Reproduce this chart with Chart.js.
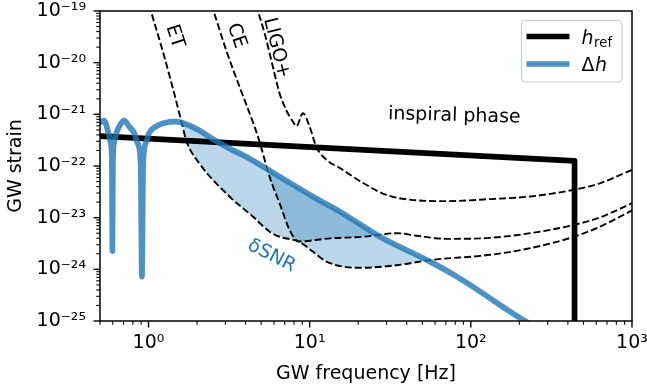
<!DOCTYPE html>
<html><head><meta charset="utf-8">
<script src="https://cdn.jsdelivr.net/npm/chart.js@4.4.1/dist/chart.umd.min.js"></script>
<style>html,body{margin:0;padding:0;background:#fff;}canvas{display:block;}</style>
</head><body>
<canvas id="c" width="647" height="389"></canvas>
<script>
// ---------- data ----------
const dhFreq = [0.5, 0.53, 0.564, 0.583, 0.593, 0.597, 0.601, 0.611, 0.632, 0.657, 0.706, 0.759, 0.815, 0.854, 0.894, 0.910, 0.926, 0.963, 1.01, 1.11, 1.25, 1.48, 1.79, 2.07, 2.50, 3.18, 4.04, 6.51, 10.5, 15.4, 27.3, 55.8, 81.9, 211, 270];
const dhStrain = [6.95e-22, 7.53e-22, 4.36e-22, 2.79e-22, 1.05e-22, 2.26e-24, 1.05e-22, 2.79e-22, 4.36e-22, 5.77e-22, 7.53e-22, 5.77e-22, 4.36e-22, 2.79e-22, 1.05e-22, 7.21e-25, 1.05e-22, 2.79e-22, 4.36e-22, 5.77e-22, 6.79e-22, 7.21e-22, 6.08e-22, 4.86e-22, 3.33e-22, 2.18e-22, 1.51e-22, 6.21e-23, 2.55e-23, 1.31e-23, 4.29e-24, 1.41e-24, 7.21e-25, 1.05e-25, 6.70e-26];

const refFreq = [0.5, 440, 440];
const refStrain = [3.8e-22, 1.26e-22, 1e-26];

const etFreq = [0.972, 1.035, 1.22, 1.39, 1.63, 1.71, 2.07, 3.18, 4.44, 5.64, 6.50, 8.54, 10.5, 12.7, 20.5, 34.6, 55.8, 132, 234, 436, 638, 1000];
const etStrain = [2.04e-19, 1.0e-19, 1.76e-20, 3.98e-21, 5.75e-22, 3.16e-22, 1.12e-22, 2.57e-23, 1.05e-23, 5.37e-24, 4.27e-24, 3.46e-24, 2.19e-24, 1.41e-24, 1.07e-24, 1.20e-24, 1.51e-24, 1.91e-24, 2.57e-24, 4.27e-24, 6.76e-24, 1.38e-23];

const ceFreq = [2.33, 2.53, 3.03, 3.67, 4.55, 4.89, 5.64, 6.50, 7.51, 8.54, 13.4, 21.5, 34.8, 46.1, 71, 132, 234, 436, 638, 1000];
const ceStrain = [2.04e-19, 1.0e-19, 1.76e-20, 3.43e-21, 5.75e-22, 2.92e-22, 6.17e-23, 1.91e-23, 5.75e-24, 3.46e-24, 3.98e-24, 4.27e-24, 5.01e-24, 4.47e-24, 3.89e-24, 4.07e-24, 5.01e-24, 7.24e-24, 1.02e-23, 1.91e-23];

const ligoFreq = [4.45, 4.77, 5.25, 5.91, 6.50, 7.16, 7.87, 8.27, 9.08, 10.0, 11.0, 12.7, 15.4, 21.5, 30.0, 44.0, 71, 132, 234, 436, 638, 1000];
const ligoStrain = [2.04e-19, 1.0e-19, 3.72e-20, 8.32e-21, 2.57e-21, 1.20e-21, 7.24e-22, 5.89e-22, 1.05e-21, 5.75e-22, 2.34e-22, 1.32e-22, 9.12e-23, 4.68e-23, 2.75e-23, 2.19e-23, 2.09e-23, 2.29e-23, 2.57e-23, 3.47e-23, 4.68e-23, 8.4e-23];

const xTicks = [1, 10, 100, 1000];
const xTickLabels = ['10⁰', '10¹', '10²', '10³'];
const yTicks = [1e-25, 1e-24, 1e-23, 1e-22, 1e-21, 1e-20, 1e-19];
const yTickLabels = ['10⁻²⁵', '10⁻²⁴', '10⁻²³', '10⁻²²', '10⁻²¹', '10⁻²⁰', '10⁻¹⁹'];

const seriesNames = ['h_ref', 'Δh'];
const curveLabels = ['ET', 'CE', 'LIGO+', 'inspiral phase', 'δSNR'];

// ---------- helpers ----------
const pts = (xs, ys) => xs.map((x, i) => ({x, y: ys[i]}));
const FONT = "'DejaVu Sans', sans-serif";
Chart.defaults.font.family = FONT;
Chart.defaults.color = '#000';

const C0 = 'rgb(31,119,180)';
const C0line = 'rgba(31,119,180,0.8)';
const C0fill = 'rgba(31,119,180,0.3)';

function minorValues(lo, hi) {
  const out = [];
  for (let e = Math.floor(Math.log10(lo)) - 1; e <= Math.ceil(Math.log10(hi)); e++) {
    for (let m = 2; m <= 9; m++) {
      const v = m * Math.pow(10, e);
      if (v >= lo * 0.999 && v <= hi * 1.001) out.push(v);
    }
  }
  return out;
}

const axesPlugin = {
  id: 'mplAxes',
  afterDatasetsDraw(chart) {
    const {ctx, chartArea: a, scales: {x, y}} = chart;
    ctx.save();
    ctx.strokeStyle = '#000';
    const tk = (x1, y1, x2, y2, w) => { ctx.lineWidth = w; ctx.beginPath(); ctx.moveTo(x1, y1); ctx.lineTo(x2, y2); ctx.stroke(); };
    xTicks.forEach(v => { const p = x.getPixelForValue(v); tk(p, a.bottom, p, a.bottom + 6.5, 1.4); });
    minorValues(x.min, x.max).forEach(v => { const p = x.getPixelForValue(v); tk(p, a.bottom, p, a.bottom + 3.7, 1.1); });
    yTicks.forEach(v => { const p = y.getPixelForValue(v); tk(a.left, p, a.left - 6.5, p, 1.4); });
    minorValues(y.min, y.max).forEach(v => { const p = y.getPixelForValue(v); tk(a.left, p, a.left - 3.7, p, 1.1); });
    ctx.lineWidth = 1.5;
    ctx.strokeRect(a.left, a.top, a.right - a.left, a.bottom - a.top);
    ctx.restore();
  }
};

const notes = [
  {text: curveLabels[0], x: 1.45, y: 3.2e-20, rot: 72, color: '#000'},
  {text: curveLabels[1], x: 3.51, y: 3.3e-20, rot: 71, color: '#000'},
  {text: curveLabels[2], x: 6.21, y: 1.92e-20, rot: 76, color: '#000'},
  {text: curveLabels[3], x: 79, y: 9.3e-22, rot: 1.5, color: '#000'},
  {text: curveLabels[4], x: 5.8, y: 1.81e-24, rot: 27, color: C0}
];

const textPlugin = {
  id: 'notes',
  afterDatasetsDraw(chart) {
    const {ctx, scales: {x, y}} = chart;
    ctx.save();
    ctx.font = '19px ' + FONT;
    ctx.textAlign = 'center';
    ctx.textBaseline = 'middle';
    notes.forEach(n => {
      ctx.save();
      ctx.translate(x.getPixelForValue(n.x), y.getPixelForValue(n.y));
      ctx.rotate(n.rot * Math.PI / 180);
      ctx.fillStyle = n.color;
      ctx.fillText(n.text, 0, 0);
      ctx.restore();
    });
    ctx.restore();
  }
};

const legendPlugin = {
  id: 'mplLegend',
  afterDraw(chart) {
    const {ctx, chartArea: a} = chart;
    const bx = a.right - 110.5, by = a.top + 9.5, bw = 100.5, bh = 61.5, r = 4;
    ctx.save();
    ctx.beginPath();
    ctx.moveTo(bx + r, by);
    ctx.arcTo(bx + bw, by, bx + bw, by + bh, r);
    ctx.arcTo(bx + bw, by + bh, bx, by + bh, r);
    ctx.arcTo(bx, by + bh, bx, by, r);
    ctx.arcTo(bx, by, bx + bw, by, r);
    ctx.closePath();
    ctx.fillStyle = 'rgba(255,255,255,0.8)';
    ctx.fill();
    ctx.strokeStyle = '#cccccc';
    ctx.lineWidth = 1.2;
    ctx.stroke();

    const rows = [
      {color: '#000', y: by + 16, parts: [{t: 'h', f: 'oblique 19px ' + FONT, dy: 0}, {t: 'ref', f: '13.3px ' + FONT, dy: 3.6}]},
      {color: C0line, y: by + 43.5, parts: [{t: 'Δ', f: '19px ' + FONT, dy: 0}, {t: 'h', f: 'oblique 19px ' + FONT, dy: 0}]}
    ];
    rows.forEach(rw => {
      ctx.strokeStyle = rw.color;
      ctx.lineWidth = 5.7;
      ctx.lineCap = 'butt';
      ctx.beginPath();
      ctx.moveTo(bx + 5, rw.y);
      ctx.lineTo(bx + 48, rw.y);
      ctx.stroke();
      let tx = bx + 60;
      ctx.fillStyle = '#000';
      ctx.textAlign = 'left';
      ctx.textBaseline = 'alphabetic';
      rw.parts.forEach(p => {
        ctx.font = p.f;
        ctx.fillText(p.t, tx, rw.y + 7 + p.dy);
        tx += ctx.measureText(p.t).width + 0.5;
      });
    });
    ctx.restore();
  }
};

const dash = {borderColor: '#000', borderWidth: 1.9, borderDash: [7, 3], pointRadius: 0, fill: false, cubicInterpolationMode: 'monotone', clip: 0, order: 5};

new Chart(document.getElementById('c'), {
  type: 'line',
  data: {
    datasets: [
      {label: 'fillET', data: pts(dhFreq, dhStrain), borderWidth: 0, pointRadius: 0, cubicInterpolationMode: 'monotone', clip: 0, order: 10,
        fill: {target: 3, above: C0fill, below: 'rgba(0,0,0,0)'}},
      {label: 'fillCE', data: pts(dhFreq, dhStrain), borderWidth: 0, pointRadius: 0, cubicInterpolationMode: 'monotone', clip: 0, order: 9,
        fill: {target: 4, above: C0fill, below: 'rgba(0,0,0,0)'}},
      {label: 'LIGO+', data: pts(ligoFreq, ligoStrain), ...dash},
      {label: 'ET', data: pts(etFreq, etStrain), ...dash},
      {label: 'CE', data: pts(ceFreq, ceStrain), ...dash},
      {label: seriesNames[0], data: pts(refFreq, refStrain), borderColor: '#000', borderWidth: 5.7, pointRadius: 0, fill: false, tension: 0,
        borderJoinStyle: 'round', borderCapStyle: 'butt', clip: 0, order: 2},
      {label: seriesNames[1], data: pts(dhFreq, dhStrain), borderColor: C0line, borderWidth: 5.7, pointRadius: 0, fill: false,
        cubicInterpolationMode: 'monotone', borderJoinStyle: 'round', borderCapStyle: 'round', clip: 0, order: 1}
    ]
  },
  options: {
    responsive: false,
    animation: false,
    devicePixelRatio: 1,
    layout: {autoPadding: false, padding: {left: 0, right: 15, top: 11, bottom: 0}},
    plugins: {legend: {display: false}, tooltip: {enabled: false}},
    scales: {
      x: {
        type: 'logarithmic', min: 0.5, max: 1000,
        afterBuildTicks: s => { s.ticks = xTicks.map(v => ({value: v})); },
        afterFit: s => { s.height = 68; s.paddingLeft = 0; s.paddingRight = 0; s.paddingTop = 0; s.paddingBottom = 0; },
        grid: {display: false, drawTicks: false},
        border: {display: false},
        ticks: {autoSkip: false, maxRotation: 0, padding: 11, font: {size: 19}, color: '#000',
          callback: v => xTickLabels[xTicks.indexOf(v)]},
        title: {display: true, text: 'GW frequency [Hz]', font: {size: 19}, color: '#000', padding: {top: 0, bottom: 4}}
      },
      y: {
        type: 'logarithmic', min: 1e-25, max: 1e-19,
        afterBuildTicks: s => { s.ticks = yTicks.map(v => ({value: v})); },
        afterFit: s => { s.width = 100; s.paddingLeft = 0; s.paddingRight = 0; s.paddingTop = 0; s.paddingBottom = 0; },
        grid: {display: false, drawTicks: false},
        border: {display: false},
        ticks: {autoSkip: false, padding: 14, font: {size: 19}, color: '#000',
          callback: v => yTickLabels[yTicks.findIndex(t => Math.abs(Math.log10(t) - Math.log10(v)) < 1e-6)]},
        title: {display: true, text: 'GW strain', font: {size: 19}, color: '#000', padding: {top: 5, bottom: 0}}
      }
    }
  },
  plugins: [axesPlugin, textPlugin, legendPlugin]
});
</script>
</body></html>
